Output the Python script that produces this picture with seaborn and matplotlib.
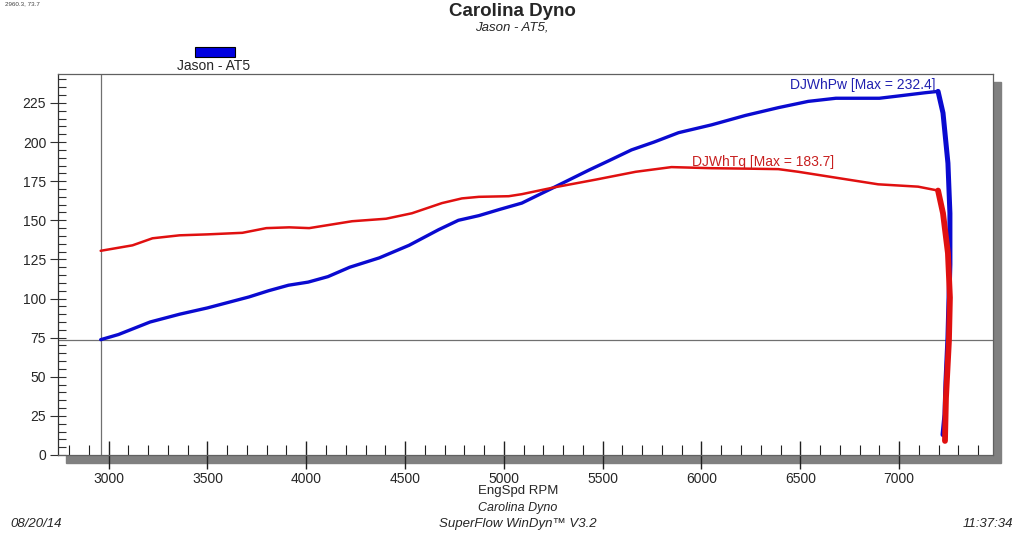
import matplotlib
matplotlib.use("Agg")
import matplotlib.pyplot as plt
import seaborn as sns
import pandas as pd
from matplotlib.patches import Rectangle
from matplotlib.ticker import MultipleLocator

# power (DJWhPw)
hp_rpm = [2960, 3050, 3110, 3210, 3360, 3500, 3710, 3810, 3910, 4010, 4110, 4220,
          4370, 4520, 4670, 4770, 4874, 4980, 5091, 5253, 5429, 5530, 5646, 5760,
          5884, 6051, 6222, 6389, 6540, 6680, 6800, 6900, 7000, 7130, 7197]
hp_val = [73.7, 77, 80, 85, 90, 94, 101, 105, 108.5, 110.5, 114, 120,
          126, 134, 144, 150, 153, 157, 161, 171, 182, 188, 195, 200,
          206, 211, 217, 222, 226, 228, 228, 228, 229.5, 231.5, 232.4]
hp_tail_rpm = [7197, 7222, 7247, 7257, 7257, 7247, 7237, 7232, 7222]
hp_tail_val = [232.4, 218.6, 186.5, 154.5, 122, 75, 47, 26, 13]

# torque (DJWhTq)
tq_rpm = [2960, 3121, 3222, 3359, 3500, 3677, 3798, 3914, 4015, 4232, 4404, 4535,
          4687, 4788, 4874, 5025, 5091, 5253, 5465, 5667, 5848, 6051, 6237, 6389,
          6490, 6742, 6894, 7096, 7197]
tq_val = [130.5, 134, 138.5, 140.4, 141, 142, 145, 145.5, 145, 149.4, 151, 154.5,
          161, 164, 165, 165.4, 166.7, 171, 176, 181, 184, 183.3, 183, 182.7,
          181, 176, 173, 171.5, 169]
tq_tail_rpm = [7197, 7222, 7247, 7257, 7252, 7237, 7232]
tq_tail_val = [169, 154.5, 129, 100.6, 73, 36.5, 9]

cursor_rpm = 2960.3
cursor_val = 73.7

BLUE = "#0a0ad0"
RED = "#e01010"

sns.set_style("white")
plt.rcParams["font.family"] = ["Liberation Sans", "DejaVu Sans"]

fig = plt.figure(figsize=(10.24, 5.33), dpi=100)
ax = fig.add_axes([58 / 1024, 1 - 455 / 533, 935 / 1024, 381 / 533])
ax.set_zorder(2)

# drop shadow behind the plot box
fig.patches.append(Rectangle((66 / 1024, 1 - 463 / 533), 935 / 1024, 381 / 533,
                             transform=fig.transFigure, color="#808080", zorder=1))

hp = pd.DataFrame({"rpm": hp_rpm, "val": hp_val})
hp_tail = pd.DataFrame({"rpm": hp_tail_rpm, "val": hp_tail_val})
tq = pd.DataFrame({"rpm": tq_rpm, "val": tq_val})
tq_tail = pd.DataFrame({"rpm": tq_tail_rpm, "val": tq_tail_val})

ax.axvline(cursor_rpm, color="#707070", lw=0.9, zorder=1)
ax.axhline(cursor_val, color="#707070", lw=0.9, zorder=1)

sns.lineplot(data=hp, x="rpm", y="val", sort=False, estimator=None, color=BLUE, lw=2.4, ax=ax)
sns.lineplot(data=hp_tail, x="rpm", y="val", sort=False, estimator=None, color=BLUE, lw=3.6, ax=ax)
sns.lineplot(data=tq, x="rpm", y="val", sort=False, estimator=None, color=RED, lw=1.8, ax=ax)
sns.lineplot(data=tq_tail, x="rpm", y="val", sort=False, estimator=None, color=RED, lw=4.2, ax=ax)

ax.text(6815, 236.5, "DJWhPw [Max = 232.4]", color="#2020b0", fontsize=10, ha="center", va="center")
ax.text(6310, 187.5, "DJWhTq [Max = 183.7]", color="#c82020", fontsize=10, ha="center", va="center")

ax.set_xlim(2744, 7475)
ax.set_ylim(0, 243.5)
ax.set_xlabel("")
ax.set_ylabel("")
ax.xaxis.set_major_locator(MultipleLocator(500))
ax.xaxis.set_minor_locator(MultipleLocator(100))
ax.yaxis.set_major_locator(MultipleLocator(25))
ax.yaxis.set_minor_locator(MultipleLocator(5))
ax.tick_params(axis="x", which="major", direction="inout", length=20, width=1, color="#202020",
               labelsize=10, pad=2)
ax.tick_params(axis="x", which="minor", direction="in", length=7, width=0.8, color="#202020")
ax.tick_params(axis="y", which="major", direction="inout", length=11, width=0.8, color="#303030",
               labelsize=10, pad=3)
ax.tick_params(axis="y", which="minor", direction="in", length=6, width=0.8, color="#303030")
ax.tick_params(bottom=True, left=True, which="both")
for s in ax.spines.values():
    s.set_color("#606060")
    s.set_linewidth(0.9)
ax.spines["left"].set_color("#303030")

# header
fig.text(0.5, 1 - 11 / 533, "Carolina Dyno", ha="center", va="center", fontsize=13.5, fontweight="bold")
fig.text(0.5, 1 - 27 / 533, "Jason - AT5,", ha="center", va="center", fontsize=9.5, style="italic")
fig.text(5 / 1024, 1 - 4 / 533, "2960.3, 73.7", ha="left", va="center", fontsize=4.5, color="#404040")

# legend swatch
fig.patches.append(Rectangle((195 / 1024, 1 - 57 / 533), 40 / 1024, 10 / 533,
                             transform=fig.transFigure, facecolor="#0000e0", edgecolor="black", lw=0.8))
fig.text(214 / 1024, 1 - 66 / 533, "Jason - AT5", ha="center", va="center", fontsize=10)

# footer
fig.text(518 / 1024, 1 - 491 / 533, "EngSpd RPM", ha="center", va="center", fontsize=9.5)
fig.text(518 / 1024, 1 - 508 / 533, "Carolina Dyno", ha="center", va="center", fontsize=9, style="italic")
fig.text(518 / 1024, 1 - 524 / 533, "SuperFlow WinDyn\u2122 V3.2", ha="center", va="center",
         fontsize=9.5, style="italic")
fig.text(10 / 1024, 1 - 524 / 533, "08/20/14", ha="left", va="center", fontsize=9.5, style="italic")
fig.text(1013 / 1024, 1 - 524 / 533, "11:37:34", ha="right", va="center", fontsize=9.5, style="italic")

fig.savefig("out.png", dpi=100, facecolor="white")
